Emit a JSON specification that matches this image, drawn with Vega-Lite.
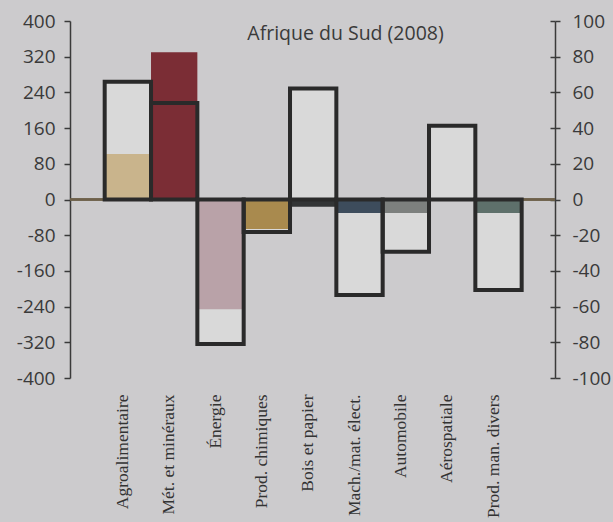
{
  "$schema": "https://vega.github.io/schema/vega-lite/v6.json",
  "width": 485,
  "height": 357,
  "autosize": {"type": "none"},
  "padding": {"left": 70, "top": 21, "right": 58, "bottom": 144},
  "background": "#cccbcd",
  "config": {"view": {"stroke": null}, "axis": {"grid": false, "labelOverlap": false}},
  "title": {
    "text": "Afrique du Sud (2008)",
    "font": "Open Sans",
    "fontSize": 19.5,
    "fontWeight": "normal",
    "color": "#3a3a3a",
    "anchor": "middle",
    "frame": "group",
    "baseline": "alphabetic",
    "offset": 0,
    "dx": 33,
    "dy": 47
  },
  "data": {
    "values": [
      {"cat": "Agroalimentaire", "outline": 264, "fill": 102},
      {"cat": "Mét. et minéraux", "outline": 216, "fill": 330},
      {"cat": "Énergie", "outline": -324, "fill": -246},
      {"cat": "Prod. chimiques", "outline": -73, "fill": -66},
      {"cat": "Bois et papier", "outline": 249, "fill": -16},
      {"cat": "Mach./mat. élect.", "outline": -214, "fill": -30},
      {"cat": "Automobile", "outline": -117, "fill": -30},
      {"cat": "Aérospatiale", "outline": 165, "fill": -3},
      {"cat": "Prod. man. divers", "outline": -203, "fill": -30}
    ]
  },
  "layer": [
    {
      "mark": {"type": "rule", "color": "#6e604a", "strokeWidth": 1.3},
      "encoding": {
        "y": {"datum": 0, "type": "quantitative", "scale": {"domain": [-400, 400]}, "axis": null}
      }
    },
    {
      "encoding": {
        "x": {
          "field": "cat",
          "type": "nominal",
          "sort": null,
          "scale": {"paddingInner": 0, "paddingOuter": 0.734, "align": 0.51},
          "axis": {
            "orient": "bottom",
            "title": null,
            "domain": false,
            "ticks": false,
            "labelAngle": -90,
            "labelAlign": "right",
            "labelBaseline": "middle",
            "labelFont": "Liberation Serif",
            "labelFontSize": 17.5,
            "labelColor": "#333333",
            "labelPadding": 16,
            "labelOffset": -5
          }
        }
      },
      "layer": [
        {
          "mark": {"type": "bar", "color": "#d9d9d9"},
          "encoding": {
            "y": {
              "field": "outline",
              "type": "quantitative",
              "scale": {"domain": [-400, 400]},
              "axis": {
                "orient": "left",
                "title": null,
                "values": [-400, -320, -240, -160, -80, 0, 80, 160, 240, 320, 400],
                "tickCount": 11,
                "domainColor": "#3a3a3a",
                "domainWidth": 1.5,
                "tickColor": "#3a3a3a",
                "tickWidth": 1.5,
                "tickSize": 6,
                "labelFont": "Open Sans",
                "labelFontSize": 19,
                "labelColor": "#3a3a3a",
                "labelPadding": 9,
                "labelExpr": "datum.value < 0 ? '-' + abs(datum.value) : '' + datum.value"
              }
            }
          }
        },
        {
          "mark": {"type": "bar"},
          "encoding": {
            "y": {"field": "fill", "type": "quantitative"},
            "color": {
              "field": "cat",
              "type": "nominal",
              "legend": null,
              "scale": {
                "domain": ["Agroalimentaire", "Mét. et minéraux", "Énergie", "Prod. chimiques", "Bois et papier", "Mach./mat. élect.", "Automobile", "Aérospatiale", "Prod. man. divers"],
                "range": ["#c9b48c", "#7b2d35", "#b9a2a8", "#a98a4e", "#333536", "#3d4c5c", "#7d807e", "#333536", "#5e706b"]
              }
            }
          }
        },
        {
          "mark": {"type": "bar", "filled": false, "stroke": "#2a2a2a", "strokeWidth": 4},
          "encoding": {
            "y": {"field": "outline", "type": "quantitative"}
          }
        }
      ]
    },
    {
      "mark": {"type": "point", "opacity": 0, "clip": true},
      "encoding": {
        "y": {
          "field": "outline",
          "type": "quantitative",
          "scale": {"domain": [-100, 100]},
          "axis": {
            "orient": "right",
            "title": null,
            "values": [-100, -80, -60, -40, -20, 0, 20, 40, 60, 80, 100],
            "tickCount": 11,
            "domainColor": "#3a3a3a",
            "domainWidth": 1.5,
            "tickColor": "#3a3a3a",
            "tickWidth": 1.5,
            "tickSize": 5,
            "labelFont": "Open Sans",
            "labelFontSize": 19,
            "labelColor": "#3a3a3a",
            "labelPadding": 12,
            "labelExpr": "datum.value < 0 ? '-' + abs(datum.value) : '' + datum.value"
          }
        }
      }
    },
    {
      "mark": {"type": "point", "opacity": 0, "clip": true},
      "encoding": {
        "y": {
          "field": "fill",
          "type": "quantitative",
          "scale": {"domain": [-100, 100]},
          "axis": {
            "orient": "right",
            "offset": -5,
            "title": null,
            "values": [-100, -80, -60, -40, -20, 0, 20, 40, 60, 80, 100],
            "tickCount": 11,
            "domain": false,
            "labels": false,
            "tickColor": "#3a3a3a",
            "tickWidth": 1.5,
            "tickSize": 5
          }
        }
      }
    }
  ],
  "resolve": {"scale": {"y": "independent"}}
}
